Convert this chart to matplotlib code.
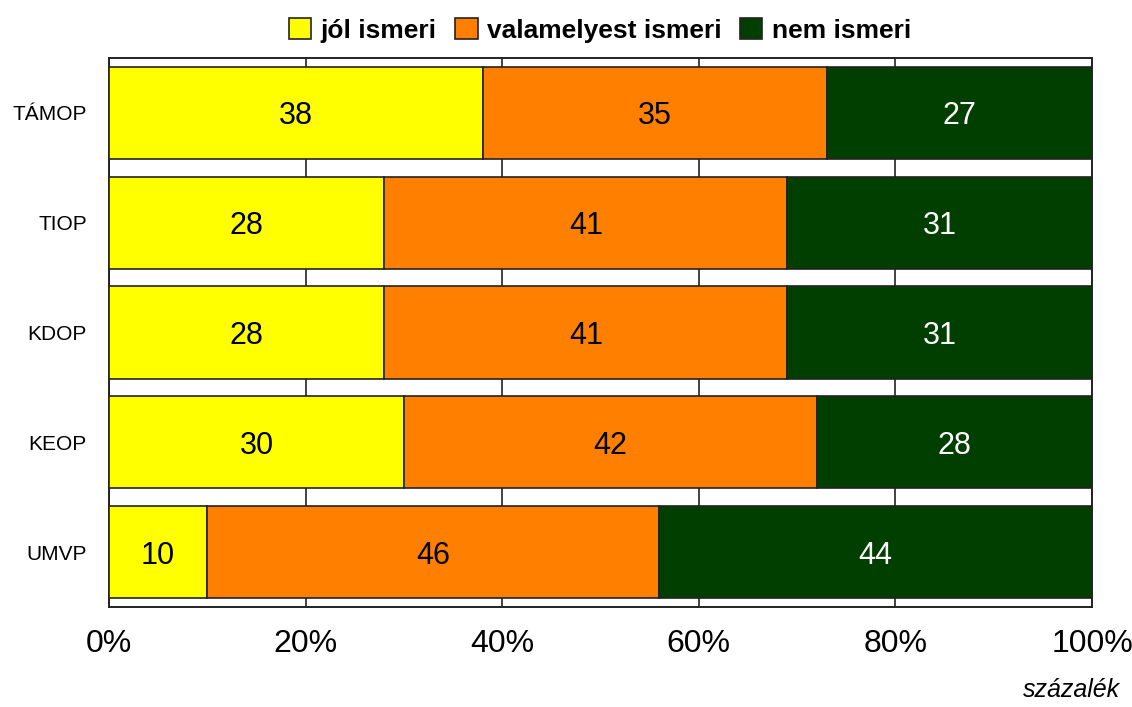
import matplotlib
matplotlib.use("Agg")
import matplotlib.pyplot as plt
from matplotlib.patches import Patch
from matplotlib.ticker import FuncFormatter

plt.rcParams['font.family'] = ['Liberation Sans Narrow', 'Liberation Sans', 'DejaVu Sans']

programs = ["TÁMOP", "TIOP", "KDOP", "KEOP", "UMVP"]
jol_ismeri = [38, 28, 28, 30, 10]
valamelyest = [35, 41, 41, 42, 46]
nem_ismeri = [27, 31, 31, 28, 44]
series_names = ["jól ismeri", "valamelyest ismeri", "nem ismeri"]
colors = ["#FFFF00", "#FF8000", "#003F00"]
text_colors = ["black", "black", "white"]

fig = plt.figure(figsize=(11.32, 7.07), dpi=100)
ax = fig.add_axes([109 / 1132, 1 - 607 / 707, (1092 - 109) / 1132, (607 - 58) / 707])

y = list(range(len(programs)))
left = [0] * len(programs)
for vals, col, tcol in zip([jol_ismeri, valamelyest, nem_ismeri], colors, text_colors):
    bars = ax.barh(y, vals, left=left, height=0.84, color=col,
                   edgecolor="#222222", linewidth=1.2, zorder=3)
    for b, v in zip(bars, vals):
        ax.annotate(f"{v}", (b.get_x() + b.get_width() / 2, b.get_y() + b.get_height() / 2),
                    xytext=(0, -2.5), textcoords="offset points",
                    ha="center", va="center", fontsize=22, color=tcol, zorder=4)
    left = [l + v for l, v in zip(left, vals)]

ax.set_xlim(0, 100)
ax.set_ylim(len(programs) - 0.5, -0.5)
ax.set_yticks(y)
ax.set_yticklabels(programs, fontsize=15)
ax.set_xticks([0, 20, 40, 60, 80, 100])
ax.xaxis.set_major_formatter(FuncFormatter(lambda v, p: f"{v:.0f}%"))
ax.tick_params(axis="x", labelsize=23, length=0, pad=16)
ax.tick_params(axis="y", length=0, pad=16)
ax.grid(axis="x", color="#222222", linewidth=1.2, zorder=0)
for s in ax.spines.values():
    s.set_linewidth(1.4)
    s.set_color("#222222")

handles = [Patch(facecolor=c, edgecolor="#222222", linewidth=1.2) for c in colors]
leg = fig.legend(handles, series_names, loc="upper center", bbox_to_anchor=(0.53, 1.008),
                 ncol=3, frameon=False, handlelength=0.85, handleheight=0.85,
                 handletextpad=0.35, columnspacing=0.7,
                 prop={"weight": "bold", "size": 19})

fig.text(1120 / 1132, 1 - 690 / 707, "százalék", ha="right", va="center",
         fontsize=18, style="italic")

fig.savefig("out.png", dpi=100)
